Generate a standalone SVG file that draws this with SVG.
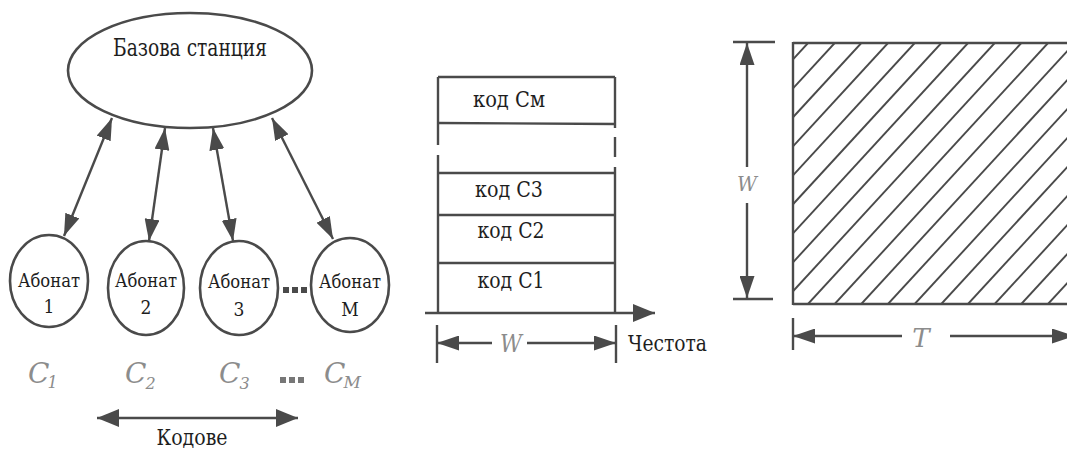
<svg xmlns="http://www.w3.org/2000/svg" width="1067" height="450" viewBox="0 0 1067 450">
  <style>
    .ln { stroke: #4a4a4a; stroke-width: 2.4; fill: none; }
    .shape { stroke: #4a4a4a; stroke-width: 2.6; fill: #fff; }
    .hatch line { stroke: #4a4a4a; stroke-width: 1.9; }
    .txt { font-family: "DejaVu Serif", "Liberation Serif", serif; font-stretch: condensed; fill: #1e1e1e; }
    .sym { font-family: "DejaVu Serif", "Liberation Serif", serif; font-style: italic; fill: #8c8c8c; }
    .arr { marker-end: url(#head); }
    .arr2 { marker-start: url(#head); marker-end: url(#head); }
  </style>
  <defs>
    <marker id="head" viewBox="0 0 22 15" refX="22" refY="7.5" markerWidth="22" markerHeight="15" markerUnits="userSpaceOnUse" orient="auto-start-reverse">
      <path d="M0,0 L22,7.5 L0,15 z" fill="#4a4a4a"/>
    </marker>
    <marker id="bighead" viewBox="0 0 22 18" refX="22" refY="9" markerWidth="22" markerHeight="18" markerUnits="userSpaceOnUse" orient="auto-start-reverse">
      <path d="M0,0 L22,9 L0,18 z" fill="#4a4a4a"/>
    </marker>
    <clipPath id="tf-clip">
      <rect x="793" y="43" width="300" height="261"/>
    </clipPath>
  </defs>

  <rect width="1067" height="450" fill="#fff"/>

  <!-- connectors between base station and subscribers -->
  <g id="connectors">
    <line class="ln arr2" x1="112" y1="118" x2="64" y2="236"/>
    <line class="ln arr2" x1="165" y1="128" x2="149" y2="241"/>
    <line class="ln arr2" x1="213" y1="128" x2="233" y2="241"/>
    <line class="ln arr2" x1="272" y1="118" x2="333" y2="239"/>
  </g>

  <g id="base-station">
    <ellipse class="shape" cx="190" cy="70.5" rx="122" ry="57.5"/>
    <text class="txt" x="190" y="56" font-size="25" text-anchor="middle" textLength="154" lengthAdjust="spacingAndGlyphs">Базова станция</text>
  </g>

  <g id="subscriber-1">
    <ellipse class="shape" cx="49" cy="281" rx="39" ry="46"/>
    <text class="txt" x="49" y="287" font-size="19" text-anchor="middle" textLength="62" lengthAdjust="spacingAndGlyphs">Абонат</text>
    <text class="txt" x="49" y="313" font-size="19" text-anchor="middle">1</text>
  </g>
  <g id="subscriber-2">
    <ellipse class="shape" cx="146" cy="288" rx="38" ry="47"/>
    <text class="txt" x="146" y="287" font-size="19" text-anchor="middle" textLength="62" lengthAdjust="spacingAndGlyphs">Абонат</text>
    <text class="txt" x="146" y="314" font-size="19" text-anchor="middle">2</text>
  </g>
  <g id="subscriber-3">
    <ellipse class="shape" cx="239" cy="288" rx="39" ry="47"/>
    <text class="txt" x="239" y="288" font-size="19" text-anchor="middle" textLength="62" lengthAdjust="spacingAndGlyphs">Абонат</text>
    <text class="txt" x="239" y="316" font-size="19" text-anchor="middle">3</text>
  </g>
  <g id="subscriber-dots">
    <rect x="283" y="287" width="6" height="6" fill="#4a4a4a"/>
    <rect x="292" y="287" width="6" height="6" fill="#4a4a4a"/>
    <rect x="301" y="287" width="6" height="6" fill="#4a4a4a"/>
  </g>
  <g id="subscriber-m">
    <ellipse class="shape" cx="350" cy="285" rx="39" ry="47"/>
    <text class="txt" x="350" y="288" font-size="19" text-anchor="middle" textLength="62" lengthAdjust="spacingAndGlyphs">Абонат</text>
    <text class="txt" x="350" y="316" font-size="19" text-anchor="middle">М</text>
  </g>

  <!-- code labels under subscribers -->
  <g id="code-labels">
    <text class="sym" x="28" y="383" font-size="28">C<tspan font-size="16" dx="-2" dy="5">1</tspan></text>
    <text class="sym" x="125" y="383" font-size="28">C<tspan font-size="16" dx="-1" dy="6">2</tspan></text>
    <text class="sym" x="219" y="383" font-size="28">C<tspan font-size="16" dx="-1" dy="6">3</tspan></text>
    <rect x="280" y="377" width="6" height="6" fill="#777"/>
    <rect x="289" y="377" width="6" height="6" fill="#777"/>
    <rect x="298" y="377" width="6" height="6" fill="#777"/>
    <text class="sym" x="324" y="383" font-size="28">C<tspan font-size="17" dx="-2" dy="5">M</tspan></text>
  </g>

  <g id="codes-axis">
    <line class="ln" x1="97" y1="418" x2="298" y2="418" marker-start="url(#bighead)" marker-end="url(#bighead)"/>
    <text class="txt" x="192" y="445" font-size="23" text-anchor="middle" textLength="71" lengthAdjust="spacingAndGlyphs">Кодове</text>
  </g>

  <!-- frequency band split into code channels -->
  <g id="code-stack">
    <line class="ln" x1="438" y1="77" x2="615" y2="77"/>
    <line class="ln" x1="438" y1="123" x2="615" y2="124"/>
    <line class="ln" x1="438" y1="173" x2="615" y2="173"/>
    <line class="ln" x1="438" y1="215" x2="615" y2="215"/>
    <line class="ln" x1="438" y1="263" x2="615" y2="263"/>
    <line class="ln" x1="438" y1="77" x2="438" y2="145"/>
    <line class="ln" x1="438" y1="155" x2="438" y2="312"/>
    <line class="ln" x1="615" y1="77" x2="615" y2="128"/>
    <line class="ln" x1="615" y1="137" x2="615" y2="157"/>
    <line class="ln" x1="615" y1="167" x2="615" y2="312"/>
    <text class="txt" x="509" y="107" font-size="22" text-anchor="middle" textLength="72" lengthAdjust="spacingAndGlyphs">код См</text>
    <text class="txt" x="509" y="197" font-size="22" text-anchor="middle" textLength="68" lengthAdjust="spacingAndGlyphs">код С3</text>
    <text class="txt" x="511" y="238" font-size="22" text-anchor="middle" textLength="67" lengthAdjust="spacingAndGlyphs">код С2</text>
    <text class="txt" x="511" y="288" font-size="22" text-anchor="middle" textLength="67" lengthAdjust="spacingAndGlyphs">код С1</text>
  </g>

  <g id="frequency-axis">
    <line class="ln" x1="425" y1="313" x2="655" y2="313" marker-end="url(#bighead)"/>
    <line class="ln" x1="437" y1="325" x2="437" y2="363"/>
    <line class="ln" x1="616" y1="325" x2="616" y2="363"/>
    <line class="ln arr" x1="492" y1="343" x2="437" y2="343"/>
    <line class="ln arr" x1="527" y1="343" x2="616" y2="343"/>
    <text class="sym" x="511" y="352" font-size="24" text-anchor="middle" textLength="22" lengthAdjust="spacingAndGlyphs">W</text>
    <text class="txt" x="628" y="351" font-size="22" textLength="79" lengthAdjust="spacingAndGlyphs">Честота</text>
  </g>

  <!-- time-frequency plane -->
  <g id="time-frequency">
    <g class="hatch" clip-path="url(#tf-clip)">
      <line x1="808" y1="43" x2="568" y2="304"/>
      <line x1="834.7" y1="43" x2="594.7" y2="304"/>
      <line x1="861.3" y1="43" x2="621.3" y2="304"/>
      <line x1="888" y1="43" x2="648" y2="304"/>
      <line x1="914.7" y1="43" x2="674.7" y2="304"/>
      <line x1="941.3" y1="43" x2="701.3" y2="304"/>
      <line x1="968" y1="43" x2="728" y2="304"/>
      <line x1="994.7" y1="43" x2="754.7" y2="304"/>
      <line x1="1021.3" y1="43" x2="781.3" y2="304"/>
      <line x1="1048" y1="43" x2="808" y2="304"/>
      <line x1="1074.7" y1="43" x2="834.7" y2="304"/>
      <line x1="1101.3" y1="43" x2="861.3" y2="304"/>
      <line x1="1128" y1="43" x2="888" y2="304"/>
      <line x1="1154.7" y1="43" x2="914.7" y2="304"/>
      <line x1="1181.3" y1="43" x2="941.3" y2="304"/>
      <line x1="1208" y1="43" x2="968" y2="304"/>
      <line x1="1234.7" y1="43" x2="994.7" y2="304"/>
      <line x1="1261.3" y1="43" x2="1021.3" y2="304"/>
      <line x1="1288" y1="43" x2="1048" y2="304"/>
    </g>
    <line class="ln" x1="793" y1="43" x2="1067" y2="43"/>
    <line class="ln" x1="793" y1="304" x2="1067" y2="304"/>
    <line class="ln" x1="793" y1="42" x2="793" y2="305"/>
  </g>

  <g id="bandwidth-dim">
    <line class="ln" x1="733" y1="42" x2="775" y2="42"/>
    <line class="ln" x1="733" y1="299" x2="773" y2="299"/>
    <line class="ln arr" x1="747" y1="167" x2="747" y2="43"/>
    <line class="ln arr" x1="747" y1="203" x2="747" y2="298"/>
    <text class="sym" x="747" y="191" font-size="21" text-anchor="middle" textLength="20" lengthAdjust="spacingAndGlyphs">W</text>
  </g>

  <g id="time-dim">
    <line class="ln" x1="793" y1="318" x2="793" y2="350"/>
    <line class="ln arr" x1="902" y1="336" x2="793" y2="336"/>
    <line class="ln arr" x1="950" y1="336" x2="1074" y2="336"/>
    <text class="sym" x="921" y="347" font-size="26" text-anchor="middle">T</text>
  </g>
</svg>
